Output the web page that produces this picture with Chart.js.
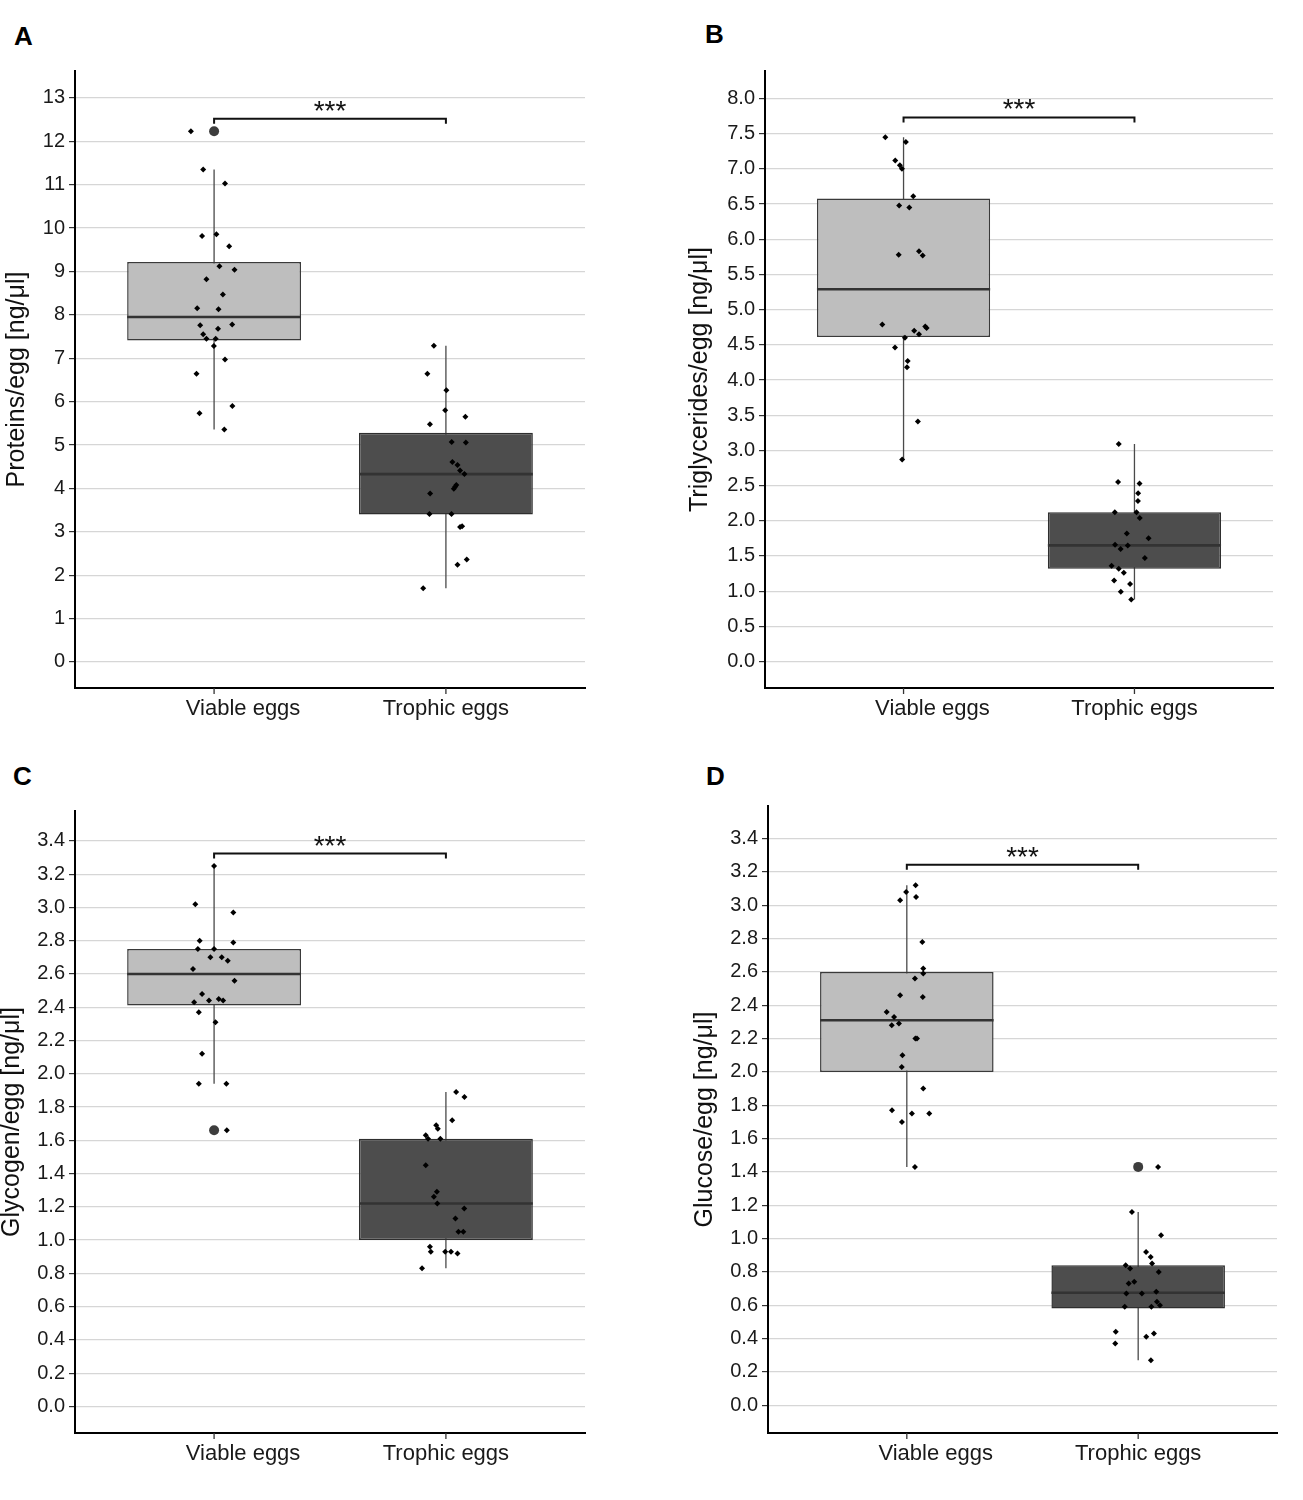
<!DOCTYPE html>
<html>
<head>
<meta charset="utf-8">
<script src="https://cdn.jsdelivr.net/npm/chart.js@4.4.1/dist/chart.umd.min.js"></script>
<style>
  body { margin: 0; background: #fff; width: 1303px; height: 1500px; position: relative; overflow: hidden; font-family: 'Liberation Sans', Arial, sans-serif; }
  .panel { position: absolute; }
  .letter { position: absolute; font-weight: bold; font-size: 26px; line-height: 1; color: #000; }
</style>
</head>
<body>
<div class="letter" style="left:14px;top:23px">A</div>
<div class="letter" style="left:705px;top:21px">B</div>
<div class="letter" style="left:13px;top:763px">C</div>
<div class="letter" style="left:706px;top:763px">D</div>

<div class="panel" style="left:0px;top:55px;width:600px;height:690px"><canvas id="chartA"></canvas></div>
<div class="panel" style="left:683px;top:55px;width:607px;height:690px"><canvas id="chartB"></canvas></div>
<div class="panel" style="left:-5px;top:795px;width:605px;height:690px"><canvas id="chartC"></canvas></div>
<div class="panel" style="left:688px;top:790px;width:602px;height:695px"><canvas id="chartD"></canvas></div>

<script>
// categories and where they sit on the x axis
const categories = ['Viable eggs', 'Trophic eggs'];
const xCats = [1, 2];
const xLabelPos = [1.125, 2]; // "Viable eggs" label sits a bit right of its box in the original

// A - proteins
const protViable = [12.23, 11.35, 11.03, 9.82, 9.86, 9.58, 9.12, 9.04, 8.82, 8.47, 8.15, 8.13, 7.76, 7.78, 7.68, 7.55, 7.45, 7.45, 7.28, 6.97, 6.64, 5.90, 5.73, 5.36];
const protViableJit = [-0.10, -0.047, 0.047, -0.052, 0.01, 0.065, 0.023, 0.088, -0.033, 0.038, -0.073, 0.019, -0.06, 0.078, 0.017, -0.047, -0.033, 0.007, -0.001, 0.047, -0.076, 0.079, -0.063, 0.044];
const protTrophic = [7.29, 6.64, 6.26, 5.80, 5.65, 5.48, 5.07, 5.06, 4.61, 4.54, 4.41, 4.33, 4.08, 4.04, 3.99, 3.88, 3.41, 3.41, 3.11, 3.13, 2.36, 2.24, 1.70];
const protTrophicJit = [-0.052, -0.08, 0.002, -0.003, 0.084, -0.069, 0.025, 0.086, 0.028, 0.05, 0.061, 0.08, 0.045, 0.04, 0.034, -0.068, -0.071, 0.024, 0.061, 0.07, 0.09, 0.05, -0.098];
// whisker low, q1, median, q3, whisker high
const protBoxViable = [5.36, 7.41, 7.95, 9.22, 11.35];
const protBoxTrophic = [1.70, 3.40, 4.33, 5.28, 7.29];
const protOutViable = [12.23];
const protOutTrophic = [];
const protTicks = [0, 1, 2, 3, 4, 5, 6, 7, 8, 9, 10, 11, 12, 13];
const protRange = [-0.6, 13.62];
const protSig = 12.52;

// B - triglycerides
const trigViable = [7.45, 7.38, 7.12, 7.05, 7.00, 6.61, 6.48, 6.45, 5.78, 5.83, 5.77, 4.79, 4.76, 4.74, 4.70, 4.65, 4.60, 4.46, 4.27, 4.18, 3.41, 2.87];
const trigViableJit = [-0.079, 0.01, -0.036, -0.016, -0.007, 0.042, -0.019, 0.025, -0.021, 0.067, 0.083, -0.092, 0.094, 0.1, 0.046, 0.067, 0.006, -0.037, 0.018, 0.015, 0.062, -0.006];
const trigTrophic = [3.09, 2.55, 2.53, 2.39, 2.28, 2.12, 2.12, 2.04, 1.82, 1.75, 1.66, 1.65, 1.60, 1.47, 1.36, 1.32, 1.26, 1.15, 1.10, 0.99, 0.88];
const trigTrophicJit = [-0.068, -0.071, 0.022, 0.016, 0.015, -0.085, 0.009, 0.023, -0.033, 0.061, -0.084, -0.029, -0.06, 0.045, -0.099, -0.068, -0.046, -0.088, -0.019, -0.059, -0.014];
const trigBoxViable = [2.87, 4.61, 5.29, 6.58, 7.45];
const trigBoxTrophic = [0.88, 1.32, 1.65, 2.12, 3.09];
const trigOutViable = [];
const trigOutTrophic = [];
const trigTicks = [0, 0.5, 1, 1.5, 2, 2.5, 3, 3.5, 4, 4.5, 5, 5.5, 6, 6.5, 7, 7.5, 8];
const trigRange = [-0.376, 8.39];
const trigSig = 7.73;

// C - glycogen
const glygViable = [3.25, 3.02, 2.97, 2.80, 2.79, 2.75, 2.75, 2.70, 2.70, 2.68, 2.63, 2.56, 2.48, 2.45, 2.44, 2.44, 2.43, 2.37, 2.31, 2.12, 1.94, 1.94, 1.66];
const glygViableJit = [0, -0.081, 0.083, -0.062, 0.083, -0.07, 0, -0.016, 0.033, 0.059, -0.091, 0.088, -0.052, 0.02, 0.039, -0.022, -0.086, -0.066, 0.006, -0.052, -0.066, 0.053, 0.055];
const glygTrophic = [1.89, 1.86, 1.72, 1.69, 1.67, 1.63, 1.61, 1.61, 1.45, 1.29, 1.26, 1.22, 1.19, 1.13, 1.05, 1.05, 0.96, 0.93, 0.93, 0.93, 0.92, 0.83];
const glygTrophicJit = [0.044, 0.08, 0.027, -0.042, -0.035, -0.087, -0.077, -0.024, -0.087, -0.039, -0.052, -0.037, 0.079, 0.041, 0.054, 0.075, -0.069, -0.065, -0.003, 0.022, 0.05, -0.103];
const glygBoxViable = [1.94, 2.41, 2.60, 2.75, 3.25];
const glygBoxTrophic = [0.83, 1.00, 1.22, 1.61, 1.89];
const glygOutViable = [1.66];
const glygOutTrophic = [];
const glygTicks = [0, 0.2, 0.4, 0.6, 0.8, 1.0, 1.2, 1.4, 1.6, 1.8, 2.0, 2.2, 2.4, 2.6, 2.8, 3.0, 3.2, 3.4];
const glygRange = [-0.16, 3.58];
const glygSig = 3.324;

// D - glucose
const glucViable = [3.12, 3.08, 3.05, 3.03, 2.78, 2.62, 2.59, 2.56, 2.46, 2.45, 2.36, 2.33, 2.29, 2.28, 2.20, 2.20, 2.10, 2.03, 1.90, 1.77, 1.75, 1.75, 1.70, 1.43];
const glucViableJit = [0.038, -0.003, 0.04, -0.029, 0.067, 0.071, 0.071, 0.035, -0.029, 0.069, -0.087, -0.055, -0.034, -0.065, 0.037, 0.044, -0.019, -0.022, 0.071, -0.064, 0.022, 0.097, -0.021, 0.035];
const glucTrophic = [1.43, 1.16, 1.02, 0.92, 0.89, 0.85, 0.84, 0.82, 0.80, 0.74, 0.73, 0.67, 0.67, 0.68, 0.62, 0.60, 0.59, 0.59, 0.44, 0.43, 0.41, 0.37, 0.27];
const glucTrophicJit = [0.086, -0.027, 0.099, 0.034, 0.054, 0.06, -0.054, -0.035, 0.089, -0.017, -0.041, -0.051, 0.016, 0.078, 0.081, 0.094, -0.058, 0.057, -0.097, 0.068, 0.035, -0.099, 0.055];
const glucBoxViable = [1.43, 2.00, 2.31, 2.60, 3.12];
const glucBoxTrophic = [0.27, 0.58, 0.675, 0.84, 1.16];
const glucOutViable = [];
const glucOutTrophic = [1.43];
const glucTicks = [0, 0.2, 0.4, 0.6, 0.8, 1.0, 1.2, 1.4, 1.6, 1.8, 2.0, 2.2, 2.4, 2.6, 2.8, 3.0, 3.2, 3.4];
const glucRange = [-0.167, 3.596];
const glucSig = 3.244;

Chart.defaults.font.family = "'Liberation Sans', Arial, sans-serif";

const BOX_W = 0.75;

function minGap(arr) {
  let m = Infinity;
  for (let i = 1; i < arr.length; i++) m = Math.min(m, arr[i] - arr[i - 1]);
  return m;
}

// draws the category tick marks and the *** bracket
const bracketPlugin = {
  id: 'bracket',
  afterDraw(chart, args, opts) {
    const { ctx } = chart;
    const x = chart.scales.x, y = chart.scales.y;
    ctx.save();
    ctx.strokeStyle = '#333';
    ctx.lineWidth = 1.3;
    xCats.forEach(c => {
      const px = x.getPixelForValue(c);
      ctx.beginPath();
      ctx.moveTo(px, x.top);
      ctx.lineTo(px, x.top + 6);
      ctx.stroke();
    });
    const x1 = x.getPixelForValue(xCats[0]);
    const x2 = x.getPixelForValue(xCats[1]);
    const yy = y.getPixelForValue(opts.sig);
    ctx.strokeStyle = '#111';
    ctx.lineWidth = 2;
    ctx.beginPath();
    ctx.moveTo(x1, yy + 5);
    ctx.lineTo(x1, yy);
    ctx.lineTo(x2, yy);
    ctx.lineTo(x2, yy + 5);
    ctx.stroke();
    ctx.fillStyle = '#111';
    ctx.font = "28px 'Liberation Sans', Arial, sans-serif";
    ctx.textAlign = 'center';
    ctx.textBaseline = 'alphabetic';
    ctx.fillText('***', (x1 + x2) / 2, yy + 1);
    ctx.restore();
  }
};

function makePanel(id, p) {
  const gap = Math.min(minGap(xCats), minGap(xLabelPos));
  const pts = p.viable.map((v, i) => ({ x: xCats[0] + p.viableJit[i], y: v }))
    .concat(p.trophic.map((v, i) => ({ x: xCats[1] + p.trophicJit[i], y: v })));
  const outs = p.outV.map(v => ({ x: xCats[0], y: v })).concat(p.outT.map(v => ({ x: xCats[1], y: v })));
  const boxes = [p.boxV, p.boxT];
  const whiskers = [], medians = [];
  boxes.forEach((b, i) => {
    if (i > 0) { whiskers.push({ x: (xCats[0] + xCats[1]) / 2, y: null }); medians.push({ x: (xCats[0] + xCats[1]) / 2, y: null }); }
    whiskers.push({ x: xCats[i], y: b[0] }, { x: xCats[i], y: b[4] });
    medians.push({ x: xCats[i] - BOX_W / 2, y: b[2] }, { x: xCats[i] + BOX_W / 2, y: b[2] });
  });

  new Chart(document.getElementById(id), {
    type: 'scatter',
    data: {
      datasets: [
        {
          type: 'line', data: whiskers, borderColor: '#4a4a4a', borderWidth: 1.3,
          pointRadius: 0, spanGaps: false, order: 4
        },
        {
          type: 'bar',
          data: boxes.map((b, i) => ({ x: xCats[i], y: [b[1], b[3]] })),
          backgroundColor: ['#bebebe', '#4d4d4d'],
          borderColor: ['#3a3a3a', '#2e2e2e'],
          borderWidth: 1.5, borderSkipped: false, grouped: false,
          categoryPercentage: 1, barPercentage: BOX_W / gap, order: 3
        },
        {
          type: 'line', data: medians, borderColor: '#333', borderWidth: 2.6,
          pointRadius: 0, spanGaps: false, order: 2
        },
        {
          type: 'scatter', data: outs, pointStyle: 'circle', pointRadius: 5,
          backgroundColor: '#3d3d3d', borderWidth: 0, order: 1
        },
        {
          type: 'scatter', data: pts, pointStyle: 'rectRot', pointRadius: 3,
          backgroundColor: '#000', borderWidth: 0, order: 0
        }
      ]
    },
    options: {
      responsive: true,
      maintainAspectRatio: false,
      animation: false,
      events: [],
      layout: { padding: { top: p.padTop, right: p.padRight, left: 0, bottom: 0 } },
      plugins: {
        legend: { display: false },
        tooltip: { enabled: false },
        bracket: { sig: p.sig }
      },
      scales: {
        x: {
          type: 'linear', min: 0.4, max: 2.6, offset: false,
          afterBuildTicks: s => { s.ticks = xLabelPos.map(v => ({ value: v })); },
          afterFit: s => { s.height = p.xHeight; },
          ticks: {
            callback: (v, i) => categories[i],
            font: { size: 22 }, color: '#1a1a1a', padding: 0,
            maxRotation: 0, autoSkip: false
          },
          grid: { display: false, offset: false },
          border: { display: true, color: '#000', width: 2 }
        },
        y: {
          type: 'linear', min: p.range[0], max: p.range[1],
          afterBuildTicks: s => { s.ticks = p.ticks.map(v => ({ value: v })); },
          afterFit: s => { s.width = p.yWidth; },
          ticks: {
            callback: v => v.toFixed(p.dec),
            font: { size: 20 }, color: '#1a1a1a', padding: 4
          },
          grid: { color: '#d6d6d6', lineWidth: 1.2, tickColor: '#333', tickLength: 6, drawTicks: true },
          border: { display: true, color: '#000', width: 2 },
          title: {
            display: true, text: p.title, font: { size: 25 }, color: '#111',
            padding: { top: 2, bottom: 0 }
          }
        }
      }
    },
    plugins: [bracketPlugin]
  });
}

makePanel('chartA', {
  title: 'Proteins/egg [ng/μl]', viable: protViable, viableJit: protViableJit,
  trophic: protTrophic, trophicJit: protTrophicJit, boxV: protBoxViable, boxT: protBoxTrophic,
  outV: protOutViable, outT: protOutTrophic, ticks: protTicks, range: protRange, sig: protSig, dec: 0,
  yWidth: 75, xHeight: 57, padTop: 13, padRight: 15
});
makePanel('chartB', {
  title: 'Triglycerides/egg [ng/μl]', viable: trigViable, viableJit: trigViableJit,
  trophic: trigTrophic, trophicJit: trigTrophicJit, boxV: trigBoxViable, boxT: trigBoxTrophic,
  outV: trigOutViable, outT: trigOutTrophic, ticks: trigTicks, range: trigRange, sig: trigSig, dec: 1,
  yWidth: 82, xHeight: 57, padTop: 10, padRight: 17
});
makePanel('chartC', {
  title: 'Glycogen/egg [ng/μl]', viable: glygViable, viableJit: glygViableJit,
  trophic: glygTrophic, trophicJit: glygTrophicJit, boxV: glygBoxViable, boxT: glygBoxTrophic,
  outV: glygOutViable, outT: glygOutTrophic, ticks: glygTicks, range: glygRange, sig: glygSig, dec: 1,
  yWidth: 80, xHeight: 52, padTop: 13, padRight: 15
});
makePanel('chartD', {
  title: 'Glucose/egg [ng/μl]', viable: glucViable, viableJit: glucViableJit,
  trophic: glucTrophic, trophicJit: glucTrophicJit, boxV: glucBoxViable, boxT: glucBoxTrophic,
  outV: glucOutViable, outT: glucOutTrophic, ticks: glucTicks, range: glucRange, sig: glucSig, dec: 1,
  yWidth: 80, xHeight: 52, padTop: 13, padRight: 13
});
</script>
</body>
</html>
